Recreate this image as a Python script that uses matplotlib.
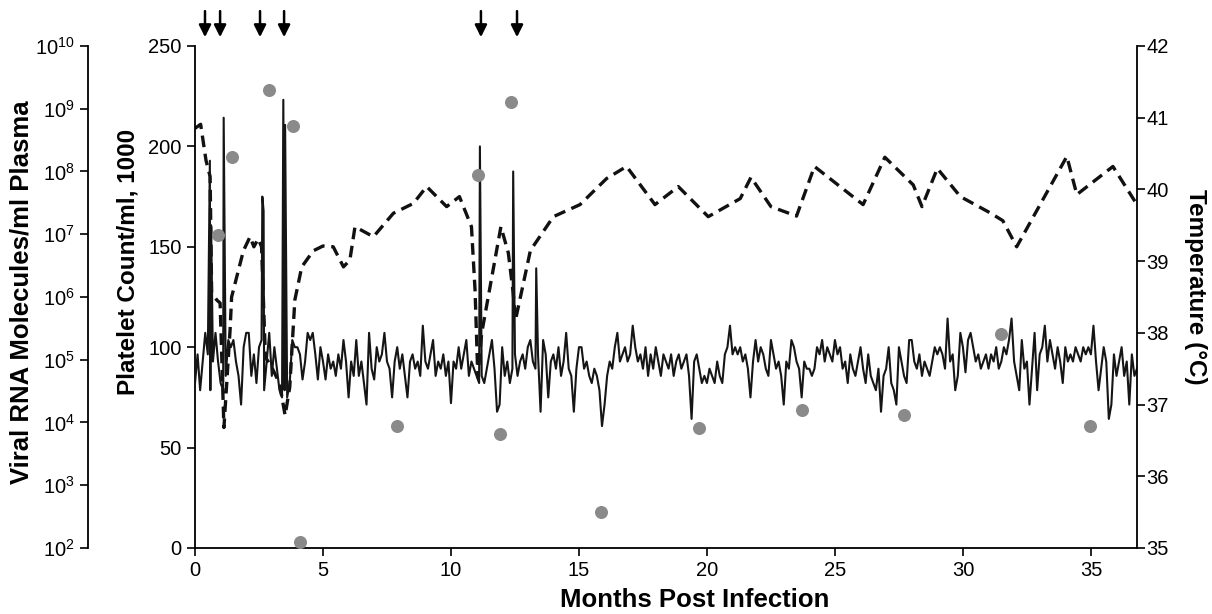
import numpy as np
import matplotlib.pyplot as plt

plt.rcParams['font.family'] = ['Liberation Sans', 'DejaVu Sans']
plt.rcParams['mathtext.default'] = 'regular'

# viral RNA (gray dots, log axis)
viral_months = [0.9, 1.44, 2.88, 3.82, 4.09, 7.9, 11.07, 11.9, 12.35, 15.86,
                19.68, 23.7, 27.7, 31.5, 34.96]
viral_copies = [9.8e6, 1.7e8, 2.0e9, 5.4e8, 1.26e2, 8.7e3, 8.7e7, 6.6e3, 1.3e9, 3.7e2,
                8.1e3, 1.6e4, 1.3e4, 2.6e5, 8.7e3]

# platelet count (dashed line)
plt_months = [0, 0.22, 0.43, 0.59, 0.65, 0.85, 0.98, 1.13, 1.37, 1.43, 1.63, 1.89,
              2.15, 2.3, 2.47, 2.6, 2.75, 3.0, 3.3, 3.52, 3.7, 3.9, 4.17, 4.62, 5.0,
              5.4, 5.8, 6.05, 6.25, 6.97, 7.75, 8.53, 9.05, 9.83, 10.33, 10.8, 10.94,
              11.05, 11.2, 11.95, 12.24, 12.43, 12.52, 13.1, 13.2, 14.0, 15.04, 16.08,
              16.86, 17.97, 18.88, 20.05, 21.3, 21.72, 22.5, 23.5, 24.2, 26.1, 26.95,
              28.06, 28.4, 29.0, 29.9, 31.05, 31.56, 32.1, 34.06, 34.45, 35.86, 36.8]
plt_counts = [209, 211, 193, 185, 127, 123.5, 122, 60, 108.5, 125, 135, 148,
              155, 150, 154, 150, 95, 90, 82, 66, 80, 123.5, 140, 148, 150.4,
              150, 140, 143.4, 160, 155, 166.7, 171.6, 180, 170, 175, 160, 128.5,
              85, 107, 160, 147, 127, 113.5, 148, 150, 165, 171, 184,
              190, 171, 180, 165, 174, 184.6, 170, 165.3, 190, 171, 194.6,
              180.8, 170, 189, 175, 167, 163, 150, 195, 176, 190, 171]

# temperature (solid line), sampled every 0.1 month
temp_values = [
    37.3, 37.7, 37.2, 37.6, 38.0, 37.7, 37.2, 37.6, 38.0, 37.6,
    37.3, 37.2, 37.4, 37.9, 37.8, 37.9, 37.6, 37.4, 37.0, 37.8,
    38.0, 38.0, 37.4, 37.7, 37.3, 37.8, 37.9, 37.2, 37.6, 38.0,
    37.4, 37.8, 37.5, 37.2, 37.1, 37.2, 37.1, 37.3, 37.9, 37.8,
    37.8, 37.7, 37.35, 37.6, 38.0, 37.9, 38.0, 37.7, 37.35, 37.8,
    37.6, 37.35, 37.7, 37.5, 37.6, 37.4, 37.7, 37.5, 37.9, 37.6,
    37.1, 37.6, 37.4, 37.9, 37.4, 37.6, 37.3, 37.0, 38.0, 37.5,
    37.35, 37.8, 37.6, 37.7, 38.0, 37.6, 37.5, 37.1, 37.6, 37.8,
    37.5, 37.7, 37.4, 37.1, 37.6, 37.7, 37.5, 37.6, 37.4, 38.1,
    37.6, 37.5, 37.7, 37.9, 37.4, 37.6, 37.5, 37.7, 37.4, 37.6,
    37.02, 37.6, 37.5, 37.8, 37.5, 37.7, 37.9, 37.4, 37.6, 37.5,
    37.4, 37.3, 37.4, 37.3, 37.5, 37.7, 37.9, 37.5, 36.9, 37.0,
    37.8, 37.4, 37.6, 37.3, 37.5, 37.7, 37.4, 37.6, 37.7, 37.5,
    37.8, 37.9, 37.6, 37.5, 37.7, 36.9, 37.9, 37.7, 37.1, 37.6,
    37.7, 37.5, 37.8, 37.4, 37.6, 38.0, 37.5, 37.4, 36.9, 37.5,
    37.8, 37.8, 37.5, 37.6, 37.4, 37.3, 37.5, 37.4, 37.2, 36.7,
    37.0, 37.4, 37.6, 37.5, 37.8, 38.0, 37.6, 37.7, 37.8, 37.6,
    37.7, 38.1, 37.8, 37.6, 37.7, 37.5, 37.8, 37.4, 37.7, 37.5,
    37.8, 37.6, 37.4, 37.7, 37.6, 37.5, 37.7, 37.4, 37.6, 37.7,
    37.5, 37.6, 37.7, 37.4, 36.8, 37.6, 37.7, 37.5, 37.3, 37.4,
    37.3, 37.5, 37.4, 37.3, 37.6, 37.4, 37.3, 37.7, 37.8, 38.1,
    37.7, 37.8, 37.7, 37.8, 37.6, 37.7, 37.5, 37.1, 37.6, 37.9,
    37.6, 37.8, 37.7, 37.5, 37.4, 37.9, 37.7, 37.5, 37.6, 37.4,
    37.0, 37.6, 37.5, 37.9, 37.8, 37.6, 37.5, 37.1, 37.6, 37.5,
    37.5, 37.4, 37.5, 37.8, 37.7, 37.9, 37.6, 37.8, 37.7, 37.6,
    37.9, 37.7, 37.8, 37.5, 37.6, 37.3, 37.7, 37.5, 37.4, 37.6,
    37.8, 37.5, 37.3, 37.7, 37.4, 37.3, 37.2, 37.5, 36.9, 37.4,
    37.5, 37.8, 37.3, 37.2, 37.0, 37.8, 37.6, 37.4, 37.3, 37.9,
    37.9, 37.6, 37.5, 37.7, 37.4, 37.6, 37.5, 37.4, 37.6, 37.8,
    37.7, 37.8, 37.7, 37.5, 38.2, 37.6, 37.7, 37.2, 37.4, 38.0,
    37.8, 37.45, 37.9, 38.0, 37.8, 37.6, 37.7, 37.5, 37.6, 37.7,
    37.5, 37.7, 37.6, 37.8, 37.5, 37.6, 37.8, 37.7, 37.9, 38.2,
    37.6, 37.4, 37.2, 37.9, 37.5, 37.6, 37.0, 37.5, 38.0, 37.2,
    37.7, 37.8, 38.1, 37.6, 37.9, 37.7, 37.5, 37.8, 37.6, 37.3,
    37.8, 37.6, 37.7, 37.6, 37.8, 37.7, 37.6, 37.8, 37.7, 37.8,
    37.7, 38.1, 37.6, 37.2, 37.5, 37.8, 37.6, 36.8, 37.0, 37.7,
    37.4, 37.6, 37.8, 37.4, 37.6, 37.0, 37.7, 37.4, 37.5, 37.6,
]
temp_months = np.round(np.arange(len(temp_values)) * 0.1, 2)

# fever spikes
spike_months = [0.58, 0.63, 1.12, 2.63, 2.68, 3.45, 3.52, 11.13, 12.43, 13.33]
spike_temps = [40.4, 39.5, 41.0, 39.9, 39.7, 41.25, 40.9, 40.6, 40.25, 38.9]

# arrows at top
arrow_months = [0.39, 0.98, 2.54, 3.48, 11.17, 12.58]

# merge spikes into temperature series
t_x = np.concatenate([temp_months, spike_months])
t_y = np.concatenate([temp_values, spike_temps])
order = np.argsort(t_x)
t_x, t_y = t_x[order], t_y[order]

fig = plt.figure(figsize=(12.12, 6.14), dpi=100)
ax = fig.add_axes([0.1609, 0.1075, 0.7772, 0.8176])

ax.plot(plt_months, plt_counts, ls=(0, (3.5, 2)), lw=2.4, color='#111111')
ax.set_xlim(0, 36.8)
ax.set_ylim(0, 250)
ax.set_xticks(range(0, 36, 5))
ax.set_yticks(range(0, 251, 50))
ax.spines['top'].set_visible(False)
ax.spines['right'].set_visible(False)
ax.tick_params(labelsize=14.5, width=1.2, length=6)
for s in ['left', 'bottom']:
    ax.spines[s].set_linewidth(1.3)

ax_t = ax.twinx()
ax_t.plot(t_x, t_y, lw=1.5, color='#151515')
ax_t.set_ylim(35, 42)
ax_t.set_yticks(range(35, 43))
ax_t.spines['top'].set_visible(False)
ax_t.spines['left'].set_visible(False)
ax_t.spines['bottom'].set_visible(False)
ax_t.spines['right'].set_linewidth(1.3)
ax_t.tick_params(labelsize=14.5, width=1.2, length=6, pad=1)

ax_v = ax.twinx()
ax_v.set_yscale('log')
ax_v.scatter(viral_months, viral_copies, s=70, color='#8a8a8a', zorder=5)
ax_v.set_ylim(1e2, 1e10)
ax_v.set_yticks([10.0 ** k for k in range(2, 11)])
ax_v.yaxis.set_minor_locator(plt.NullLocator())
ax_v.yaxis.tick_left()
ax_v.spines['left'].set_position(('outward', 77))
ax_v.spines['left'].set_visible(True)
ax_v.spines['left'].set_linewidth(1.3)
for s in ['top', 'right', 'bottom']:
    ax_v.spines[s].set_visible(False)
ax_v.tick_params(labelsize=14.5, width=1.2, length=6)

for m in arrow_months:
    ax.annotate('', xy=(m, 1.012), xytext=(m, 1.075), xycoords=ax.get_xaxis_transform(),
                arrowprops=dict(arrowstyle='-|>', lw=1.8, color='black', mutation_scale=18),
                annotation_clip=False)

fig.text(695 / 1212, 1 - 600 / 614, 'Months Post Infection', ha='center', va='center',
         fontsize=18.5, fontweight='bold')
fig.text(22 / 1212, 1 - 292 / 614, 'Viral RNA Molecules/ml Plasma', ha='center', va='center',
         rotation=90, fontsize=18.5, fontweight='bold')
fig.text(128 / 1212, 1 - 262 / 614, 'Platelet Count/ml, 1000', ha='center', va='center',
         rotation=90, fontsize=17.5, fontweight='bold')
fig.text(1196 / 1212, 1 - 287 / 614, 'Temperature (°C)', ha='center', va='center',
         rotation=-90, fontsize=17.5, fontweight='bold')

fig.savefig('out.png', dpi=100)
